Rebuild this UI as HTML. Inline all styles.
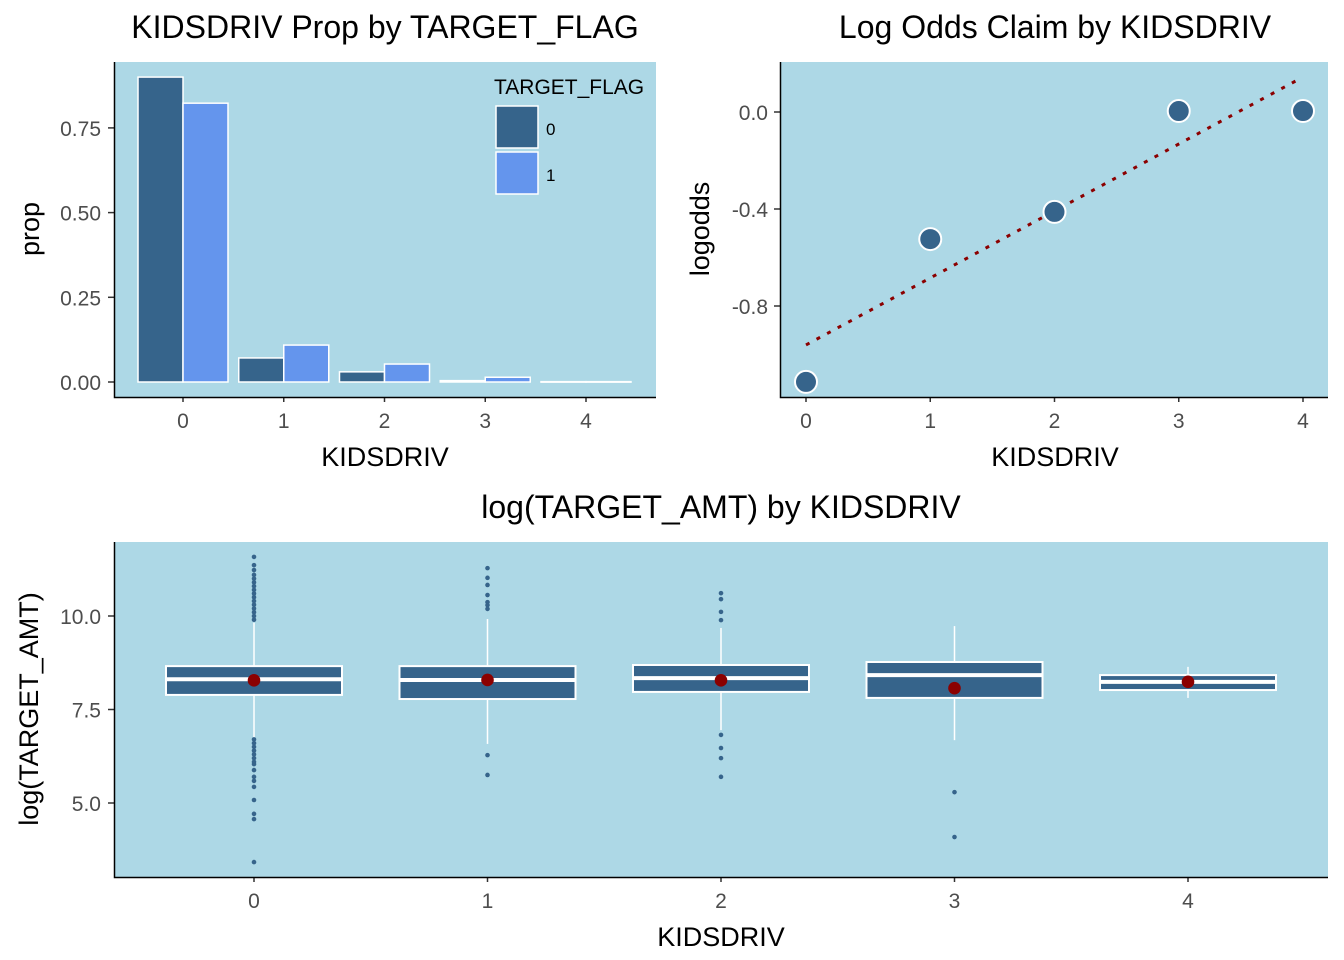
<!DOCTYPE html>
<html><head><meta charset="utf-8"><style>
body{margin:0;background:#fff}
svg{display:block;font-family:"Liberation Sans",Arial,sans-serif}
</style></head><body>
<svg id="chart" width="1344" height="960" viewBox="0 0 1344 960">
<g id="p1"></g>
<g id="p2"></g>
<g id="p3"></g>
</svg>
<script>
// Panel 1 data
const barCats = [0,1,2,3,4];
const prop0 = [0.900,0.071,0.030,0.004,0.001];
const prop1 = [0.823,0.109,0.053,0.014,0.001];
const propTicks = [0,0.25,0.5,0.75];
const propTickLabels = ["0.00","0.25","0.50","0.75"];
// Panel 2 data
const loCats = [0,1,2,3,4];
const logodds = [-1.113,-0.524,-0.412,0.004,0.004];
const loTicks = [0,-0.4,-0.8];
const loTickLabels = ["0.0","-0.4","-0.8"];
// Panel 3 data
const boxCats = [0,1,2,3,4];
const boxQ1 = [7.89,7.78,7.97,7.81,8.02];
const boxMed = [8.31,8.29,8.34,8.42,8.24];
const boxQ3 = [8.66,8.66,8.69,8.77,8.42];
const boxLo = [6.74,6.58,6.95,6.68,7.81];
const boxHi = [9.82,9.92,9.68,9.73,8.64];
const boxMean = [8.28,8.29,8.28,8.07,8.24];
const out0 = [11.58,11.36,11.23,11.10,11.0,10.9,10.8,10.7,10.6,10.5,10.4,10.3,10.2,10.1,10.0,9.9,6.7,6.6,6.5,6.4,6.3,6.2,6.1,6.04,5.88,5.70,5.59,5.43,5.08,4.71,4.57,3.42];
const out1 = [11.28,11.02,10.83,10.56,10.37,10.29,10.19,6.28,5.75];
const out2 = [10.61,10.45,10.11,9.89,6.82,6.47,6.20,5.70];
const out3 = [5.29,4.09];
const out4 = [];
const boxOutliers = [out0,out1,out2,out3,out4];
const amtTicks = [10,7.5,5];
const amtTickLabels = ["10.0","7.5","5.0"];

const NS="http://www.w3.org/2000/svg";
function mk(parent,tag,attrs,text){const e=document.createElementNS(NS,tag);for(const k in attrs)e.setAttribute(k,attrs[k]);if(text!==undefined)e.textContent=text;parent.appendChild(e);return e;}
const DARK="#36648B", LIGHT="#6495ED", BG="#ADD8E6", RED="#8B0000";
const TK={fill:'#4d4d4d','font-size':'21px'};
function tk(extra){return Object.assign({},TK,extra);}

// ---------- Panel 1 ----------
(function(){
const g=document.getElementById('p1');
const x=c=>183+c*100.75, y=v=>382-v*338.8;
let e=mk(g,'rect',{x:115,y:62,width:541,height:335,fill:BG});


barCats.forEach((c,i)=>{
 let b=mk(g,'rect',{x:x(c)-45,y:y(prop0[i]),width:45,height:Math.max(0.5,y(0)-y(prop0[i])),fill:DARK,stroke:'#fff','stroke-width':1.5});
 
 
 let b2=mk(g,'rect',{x:x(c),y:y(prop1[i]),width:45,height:Math.max(0.5,y(0)-y(prop1[i])),fill:LIGHT,stroke:'#fff','stroke-width':1.5});
 
 
 let t=mk(g,'text',tk({x:x(c),y:428,'text-anchor':'middle'}),String(c));
 
 
 mk(g,'line',{x1:x(c),x2:x(c),y1:397,y2:402,stroke:'#333','stroke-width':1.5});
});
propTicks.forEach((v,i)=>{
 let t=mk(g,'text',tk({x:101,y:y(v)+8,'text-anchor':'end'}),propTickLabels[i]);
 
 
 mk(g,'line',{x1:108,x2:114,y1:y(v),y2:y(v),stroke:'#333','stroke-width':1.5});
});
mk(g,'path',{d:'M114.5 62V397.5H656',fill:'none',stroke:'#000','stroke-width':1.5});
e=mk(g,'text',{x:385,y:38,'text-anchor':'middle','font-size':'32px'},'KIDSDRIV Prop by TARGET_FLAG');

e=mk(g,'text',{x:385,y:466,'text-anchor':'middle','font-size':'27px'},'KIDSDRIV');

e=mk(g,'text',{x:39,y:229,'text-anchor':'middle','font-size':'27px',transform:'rotate(-90 39 229)'},'prop');

e=mk(g,'text',{x:494,y:94,'font-size':'21px'},'TARGET_FLAG');

e=mk(g,'rect',{x:496,y:106,width:42,height:42,fill:DARK,stroke:'#fff','stroke-width':1.5});

e=mk(g,'rect',{x:496,y:152,width:42,height:42,fill:LIGHT,stroke:'#fff','stroke-width':1.5});

e=mk(g,'text',{x:546,y:135,'font-size':'17px'},'0');

e=mk(g,'text',{x:546,y:181,'font-size':'17px'},'1');

})();

// ---------- Panel 2 ----------
(function(){
const g=document.getElementById('p2');
const x=c=>806+c*124.25, y=v=>112-v*242.5;
let e=mk(g,'rect',{x:781,y:62,width:547,height:335,fill:BG});

const n=loCats.length;const mx=loCats.reduce((a,b)=>a+b,0)/n;const my=logodds.reduce((a,b)=>a+b,0)/n;
let sxy=0,sxx=0;loCats.forEach((c,i)=>{sxy+=(c-mx)*(logodds[i]-my);sxx+=(c-mx)*(c-mx);});
const sl=sxy/sxx,ic=my-sl*mx;const x0=loCats[0],x1=loCats[n-1]-0.05;
e=mk(g,'line',{x1:x(x0),y1:y(ic+sl*x0),x2:x(x1),y2:y(ic+sl*x1),stroke:RED,'stroke-width':3,'stroke-dasharray':'4 8'});

loCats.forEach((c,i)=>{
 let p=mk(g,'circle',{cx:x(c),cy:y(logodds[i]),r:11,fill:DARK,stroke:'#fff','stroke-width':2});
 
 
 let t=mk(g,'text',tk({x:x(c),y:428,'text-anchor':'middle'}),String(c));
 
 
 mk(g,'line',{x1:x(c),x2:x(c),y1:397,y2:402,stroke:'#333','stroke-width':1.5});
});
loTicks.forEach((v,i)=>{
 let t=mk(g,'text',tk({x:768,y:y(v)+8,'text-anchor':'end'}),loTickLabels[i]);
 
 
 mk(g,'line',{x1:774,x2:780,y1:y(v),y2:y(v),stroke:'#333','stroke-width':1.5});
});
mk(g,'path',{d:'M780.5 62V397.5H1328',fill:'none',stroke:'#000','stroke-width':1.5});
e=mk(g,'text',{x:1055,y:38,'text-anchor':'middle','font-size':'32px'},'Log Odds Claim by KIDSDRIV');

e=mk(g,'text',{x:1055,y:466,'text-anchor':'middle','font-size':'27px'},'KIDSDRIV');

e=mk(g,'text',{x:709,y:229,'text-anchor':'middle','font-size':'27px',transform:'rotate(-90 709 229)'},'logodds');

})();

// ---------- Panel 3 ----------
(function(){
const g=document.getElementById('p3');
const x=c=>254+c*233.5, y=v=>616-(v-10)*37.4;
let e=mk(g,'rect',{x:115,y:542,width:1213,height:335,fill:BG});

boxCats.forEach((c,i)=>{
 const cx=x(c);
 let w=mk(g,'line',{x1:cx,x2:cx,y1:y(boxHi[i]),y2:y(boxLo[i]),stroke:'#fff','stroke-width':1.5});
 
 
 let b=mk(g,'rect',{x:cx-88,y:y(boxQ3[i]),width:176,height:y(boxQ1[i])-y(boxQ3[i]),fill:DARK,stroke:'#fff','stroke-width':2});
 
 
 let m=mk(g,'line',{x1:cx-88,x2:cx+88,y1:y(boxMed[i]),y2:y(boxMed[i]),stroke:'#fff','stroke-width':4});
 
 
 boxOutliers[i].forEach(v=>{
  let o=mk(g,'circle',{cx:cx,cy:y(v),r:2.3,fill:DARK});
  
  
 });
 let mn=mk(g,'circle',{cx:cx,cy:y(boxMean[i]),r:6.3,fill:RED});
 
 
 let t=mk(g,'text',tk({x:cx,y:908,'text-anchor':'middle'}),String(c));
 
 
 mk(g,'line',{x1:cx,x2:cx,y1:877,y2:882,stroke:'#333','stroke-width':1.5});
});
amtTicks.forEach((v,i)=>{
 let t=mk(g,'text',tk({x:101,y:y(v)+8,'text-anchor':'end'}),amtTickLabels[i]);
 
 
 mk(g,'line',{x1:108,x2:114,y1:y(v),y2:y(v),stroke:'#333','stroke-width':1.5});
});
mk(g,'path',{d:'M114.5 542V877.5H1328',fill:'none',stroke:'#000','stroke-width':1.5});
e=mk(g,'text',{x:721,y:518,'text-anchor':'middle','font-size':'32px'},'log(TARGET_AMT) by KIDSDRIV');

e=mk(g,'text',{x:721,y:946,'text-anchor':'middle','font-size':'27px'},'KIDSDRIV');

e=mk(g,'text',{x:38,y:709,'text-anchor':'middle','font-size':'27px',transform:'rotate(-90 38 709)'},'log(TARGET_AMT)');

})();
</script>
</body></html>
